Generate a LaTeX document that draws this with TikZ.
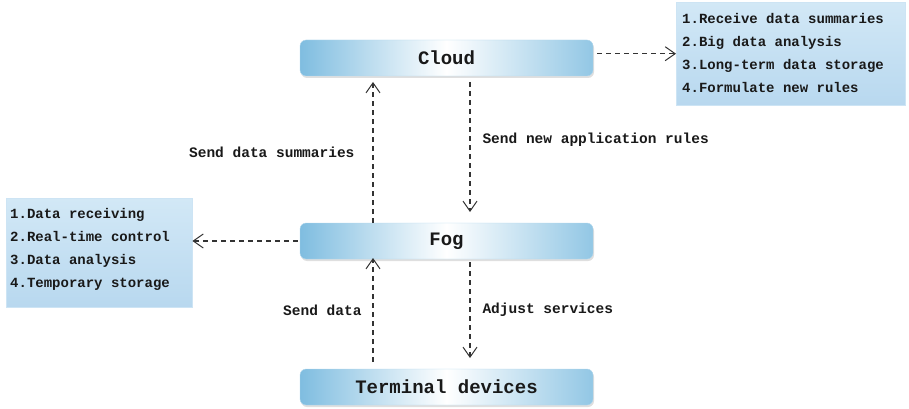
\documentclass[tikz,border=0pt]{standalone}
\usepackage{fontspec}
\newfontfamily\cour{Liberation Mono}
\usetikzlibrary{arrows.meta,shadows}
\definecolor{boxblue}{HTML}{7FBDE0}
\definecolor{listtop}{HTML}{D2E8F6}
\definecolor{listbot}{HTML}{B8D8EF}
\tikzset{
  layer/.style={rounded corners=6pt, minimum width=293pt, minimum height=36pt,
    left color=boxblue, right color=boxblue!85, middle color=white,
    draw=boxblue!60, line width=0.4pt,
    drop shadow={opacity=0.25, shadow xshift=1pt, shadow yshift=-2pt},
    font=\cour\bfseries\fontsize{19}{20}\selectfont, text=black!90},
  listbox/.style={top color=listtop, bottom color=listbot, draw=listbot!70!white, line width=0.4pt,
    anchor=north west, inner sep=0pt},
  listtext/.style={anchor=north west, inner sep=0pt, align=left, text=black!90,
    font=\cour\bfseries\fontsize{14}{23.2}\selectfont},
  lbl/.style={font=\cour\bfseries\fontsize{14.5}{16}\selectfont, text=black!90},
  flow/.style={dashed, dash pattern=on 5pt off 4pt, line width=1.1pt, black!80,
    -{Straight Barb[length=10pt,width=14pt,line width=1pt]}},
}
\begin{document}
\begin{tikzpicture}[x=1pt,y=-1pt]
\useasboundingbox (0,0) rectangle (909,409);
\node[layer] (cloud) at (446.5,58) {Cloud};
\node[layer] (fog) at (446.5,241) {Fog};
\node[layer] (term) at (446.5,387) {Terminal devices};
\node[listbox, minimum width=229pt, minimum height=103pt] (rbox) at (676,2) {};
\node[listtext] (rtext) at (682,13) {1.Receive data summaries\\2.Big data analysis\\3.Long-term data storage\\4.Formulate new rules};
\node[listbox, minimum width=186pt, minimum height=109pt] (lbox) at (6,198) {};
\node[listtext] (ltext) at (10,208) {1.Data receiving\\2.Real-time control\\3.Data analysis\\4.Temporary storage};
\coordinate (upA) at (373,223);
\draw[flow] (upA) -- (upA |- 0,82);
\coordinate (dnA) at (470,82);
\draw[flow] (dnA) -- (dnA |- 0,212);
\coordinate (upB) at (373,362);
\draw[flow] (upB) -- (upB |- 0,258);
\coordinate (dnB) at (470,262);
\draw[flow] (dnB) -- (dnB |- 0,358);
\draw[flow] ([xshift=4pt]cloud.east |- rbox.west) -- (rbox.west);
\draw[flow] ([xshift=-2pt]fog.west) -- (lbox.east |- fog.west);
\node[lbl, anchor=east] (lsum) at (358,152) {Send data summaries};
\node[lbl, anchor=west] (lrules) at (479,140) {Send new application rules};
\node[lbl, anchor=east] (ldata) at (365,310) {Send data};
\node[lbl, anchor=west] (ladj) at (479,310) {Adjust services};
\end{tikzpicture}
\end{document}
